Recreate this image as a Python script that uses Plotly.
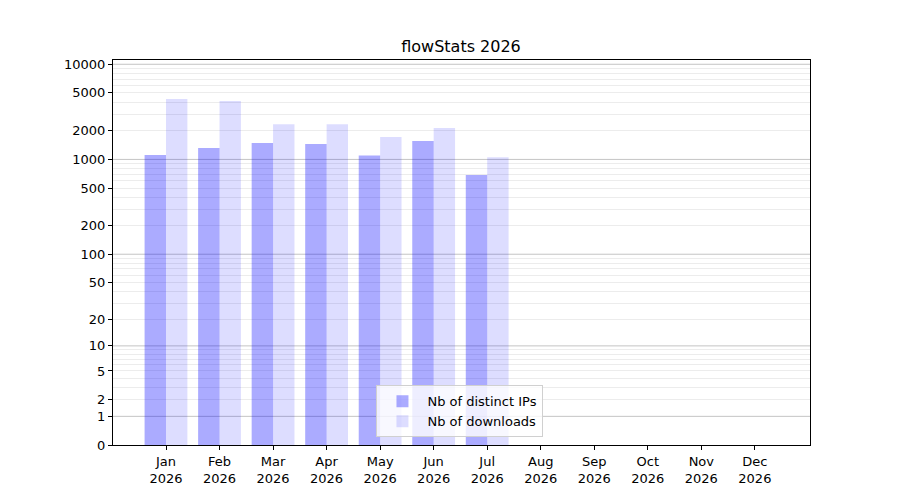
import numpy as np
import plotly.graph_objects as go

months = ["Jan", "Feb", "Mar", "Apr", "May", "Jun", "Jul",
          "Aug", "Sep", "Oct", "Nov", "Dec"]
year = 2026
distinct_ips = [1110, 1315, 1485, 1450, 1100, 1560, 685]
downloads = [4310, 4110, 2350, 2340, 1720, 2135, 1057]
y_ticks = [0, 1, 2, 5, 10, 20, 50, 100, 200, 500, 1000, 2000, 5000, 10000]
decades = [1, 10, 100, 1000, 10000]
minor_vals = [m * d for d in [1, 10, 100, 1000] for m in range(2, 10)]


def tr(v):
    # log10(1 + v) scale, like the original "symlog"-ish axis
    return np.log10(np.asarray(v, dtype=float) + 1)


x = list(range(len(months)))
fig = go.Figure()
fig.add_trace(go.Bar(
    x=x[:len(distinct_ips)], y=tr(distinct_ips),
    name="Nb of distinct IPs",
    marker=dict(color="rgba(0,0,255,0.33)", line=dict(width=0)),
))
fig.add_trace(go.Bar(
    x=x[:len(downloads)], y=tr(downloads),
    name="Nb of downloads",
    marker=dict(color="rgba(0,0,255,0.135)", line=dict(width=0)),
))

# darker grid lines on each decade
for d in tr(decades):
    fig.add_hline(y=d, line=dict(color="#c4c4c4", width=1), layer="below")

font = "DejaVu Sans"
# the page body adds an 8px offset, so margins are shifted to compensate
fig.update_layout(
    width=900, height=500,
    margin=dict(l=105, r=98, t=52, b=63),
    paper_bgcolor="white", plot_bgcolor="white",
    font=dict(family=font, size=13, color="black"),
    title=dict(text=f"flowStats {year}", x=(461 - 8) / 900, xanchor="center",
               y=1 - 38 / 500, yanchor="middle", font=dict(size=16)),
    barmode="group", bargap=0.2, bargroupgap=0,
    showlegend=True,
    legend=dict(x=0.378, y=0.02, xanchor="left", yanchor="bottom",
                bgcolor="rgba(255,255,255,0.8)", bordercolor="#d0d0d0",
                borderwidth=1, font=dict(size=13), tracegroupgap=0,
                itemwidth=40),
    xaxis=dict(
        range=[-0.99, 12.03], tickvals=x,
        ticktext=[f"{m}<br>{year}" for m in months],
        showgrid=False, zeroline=False, showline=True, linecolor="black",
        linewidth=1, mirror=True, ticks="outside", ticklen=4,
        tickcolor="black",
    ),
    yaxis=dict(
        range=[0, 4.045], tickvals=tr(y_ticks),
        ticktext=[str(t) for t in y_ticks],
        showgrid=False, zeroline=False, showline=True, linecolor="black",
        linewidth=1, mirror=True, ticks="outside", ticklen=4,
        tickcolor="black",
        minor=dict(tickvals=tr(minor_vals), showgrid=True,
                   gridcolor="#ececec", gridwidth=1, ticks=""),
    ),
)

fig.write_html("out.html")
